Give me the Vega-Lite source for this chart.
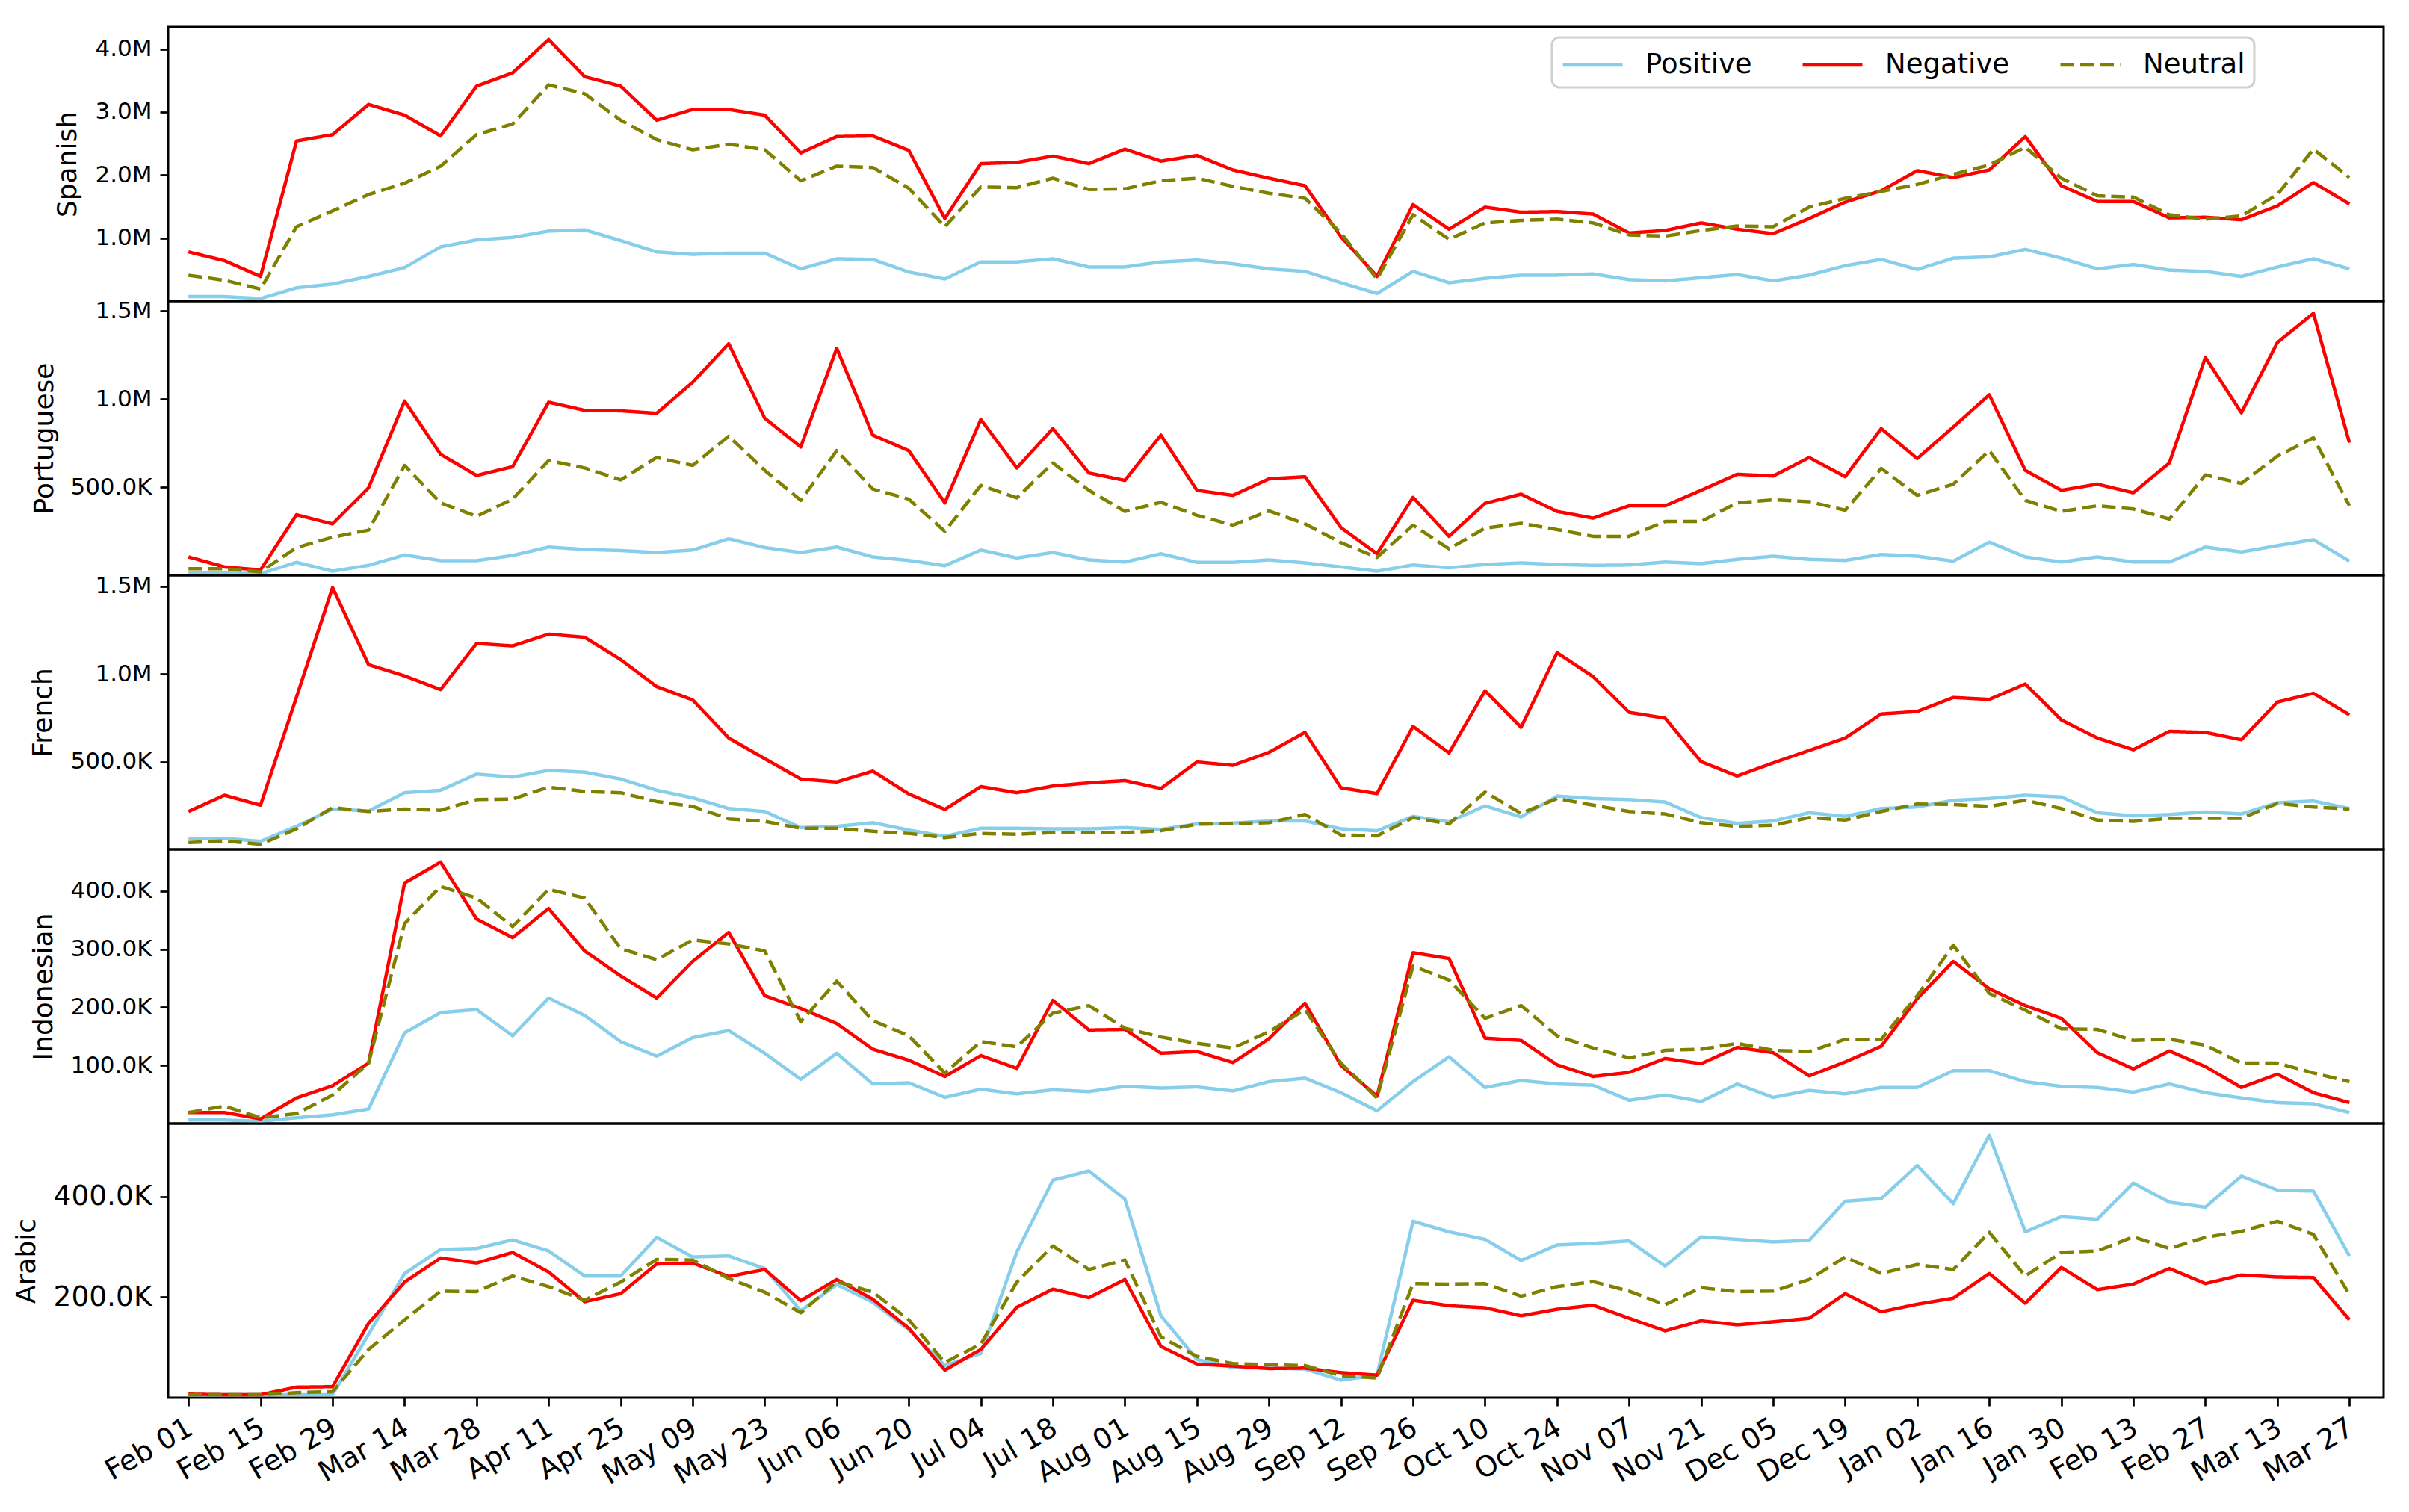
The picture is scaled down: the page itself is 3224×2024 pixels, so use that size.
{
"$schema": "https://vega.github.io/schema/vega-lite/v6.json",
"background": "white",
"padding": {"left": 15, "top": 34, "right": 30, "bottom": 40},
"autosize": {"type": "pad"},
"spacing": 0,
"bounds": "flush",
"config": {
 "font": "DejaVu Sans",
 "view": {"stroke": "black", "strokeWidth": 3},
 "axis": {"grid": false, "domain": false, "ticks": true, "tickColor": "black", "tickWidth": 2.7, "tickSize": 11, "labelColor": "black", "labelPadding": 11, "labelFont": "DejaVu Sans", "titleFont": "DejaVu Sans", "titleFontWeight": "normal", "titleColor": "black"},
 "legend": {"strokeWidth": 3}
},
"datasets": {
"Spanish": [
{"date":"2020-02-01","sentiment":"Positive","count":70000},{"date":"2020-02-08","sentiment":"Positive","count":70000},{"date":"2020-02-15","sentiment":"Positive","count":40000},{"date":"2020-02-22","sentiment":"Positive","count":210000},{"date":"2020-02-29","sentiment":"Positive","count":270000},{"date":"2020-03-07","sentiment":"Positive","count":390000},{"date":"2020-03-14","sentiment":"Positive","count":530000},{"date":"2020-03-21","sentiment":"Positive","count":860000},{"date":"2020-03-28","sentiment":"Positive","count":970000},{"date":"2020-04-04","sentiment":"Positive","count":1010000},{"date":"2020-04-11","sentiment":"Positive","count":1110000},{"date":"2020-04-18","sentiment":"Positive","count":1130000},{"date":"2020-04-25","sentiment":"Positive","count":960000},{"date":"2020-05-02","sentiment":"Positive","count":780000},{"date":"2020-05-09","sentiment":"Positive","count":740000},{"date":"2020-05-16","sentiment":"Positive","count":760000},{"date":"2020-05-23","sentiment":"Positive","count":760000},{"date":"2020-05-30","sentiment":"Positive","count":510000},{"date":"2020-06-06","sentiment":"Positive","count":670000},{"date":"2020-06-13","sentiment":"Positive","count":660000},{"date":"2020-06-20","sentiment":"Positive","count":460000},{"date":"2020-06-27","sentiment":"Positive","count":350000},{"date":"2020-07-04","sentiment":"Positive","count":620000},{"date":"2020-07-11","sentiment":"Positive","count":620000},{"date":"2020-07-18","sentiment":"Positive","count":670000},{"date":"2020-07-25","sentiment":"Positive","count":540000},{"date":"2020-08-01","sentiment":"Positive","count":540000},{"date":"2020-08-08","sentiment":"Positive","count":620000},{"date":"2020-08-15","sentiment":"Positive","count":650000},{"date":"2020-08-22","sentiment":"Positive","count":590000},{"date":"2020-08-29","sentiment":"Positive","count":510000},{"date":"2020-09-05","sentiment":"Positive","count":470000},{"date":"2020-09-12","sentiment":"Positive","count":290000},{"date":"2020-09-19","sentiment":"Positive","count":120000},{"date":"2020-09-26","sentiment":"Positive","count":470000},{"date":"2020-10-03","sentiment":"Positive","count":290000},{"date":"2020-10-10","sentiment":"Positive","count":360000},{"date":"2020-10-17","sentiment":"Positive","count":410000},{"date":"2020-10-24","sentiment":"Positive","count":410000},{"date":"2020-10-31","sentiment":"Positive","count":430000},{"date":"2020-11-07","sentiment":"Positive","count":340000},{"date":"2020-11-14","sentiment":"Positive","count":320000},{"date":"2020-11-21","sentiment":"Positive","count":370000},{"date":"2020-11-28","sentiment":"Positive","count":420000},{"date":"2020-12-05","sentiment":"Positive","count":320000},{"date":"2020-12-12","sentiment":"Positive","count":410000},{"date":"2020-12-19","sentiment":"Positive","count":560000},{"date":"2020-12-26","sentiment":"Positive","count":660000},{"date":"2021-01-02","sentiment":"Positive","count":500000},{"date":"2021-01-09","sentiment":"Positive","count":680000},{"date":"2021-01-16","sentiment":"Positive","count":700000},{"date":"2021-01-23","sentiment":"Positive","count":820000},{"date":"2021-01-30","sentiment":"Positive","count":680000},{"date":"2021-02-06","sentiment":"Positive","count":510000},{"date":"2021-02-13","sentiment":"Positive","count":580000},{"date":"2021-02-20","sentiment":"Positive","count":490000},{"date":"2021-02-27","sentiment":"Positive","count":470000},{"date":"2021-03-06","sentiment":"Positive","count":390000},{"date":"2021-03-13","sentiment":"Positive","count":540000},{"date":"2021-03-20","sentiment":"Positive","count":670000},{"date":"2021-03-27","sentiment":"Positive","count":510000},
{"date":"2020-02-01","sentiment":"Negative","count":780000},{"date":"2020-02-08","sentiment":"Negative","count":640000},{"date":"2020-02-15","sentiment":"Negative","count":390000},{"date":"2020-02-22","sentiment":"Negative","count":2540000},{"date":"2020-02-29","sentiment":"Negative","count":2640000},{"date":"2020-03-07","sentiment":"Negative","count":3120000},{"date":"2020-03-14","sentiment":"Negative","count":2950000},{"date":"2020-03-21","sentiment":"Negative","count":2620000},{"date":"2020-03-28","sentiment":"Negative","count":3410000},{"date":"2020-04-04","sentiment":"Negative","count":3620000},{"date":"2020-04-11","sentiment":"Negative","count":4150000},{"date":"2020-04-18","sentiment":"Negative","count":3560000},{"date":"2020-04-25","sentiment":"Negative","count":3410000},{"date":"2020-05-02","sentiment":"Negative","count":2870000},{"date":"2020-05-09","sentiment":"Negative","count":3040000},{"date":"2020-05-16","sentiment":"Negative","count":3040000},{"date":"2020-05-23","sentiment":"Negative","count":2950000},{"date":"2020-05-30","sentiment":"Negative","count":2350000},{"date":"2020-06-06","sentiment":"Negative","count":2610000},{"date":"2020-06-13","sentiment":"Negative","count":2620000},{"date":"2020-06-20","sentiment":"Negative","count":2390000},{"date":"2020-06-27","sentiment":"Negative","count":1310000},{"date":"2020-07-04","sentiment":"Negative","count":2180000},{"date":"2020-07-11","sentiment":"Negative","count":2200000},{"date":"2020-07-18","sentiment":"Negative","count":2300000},{"date":"2020-07-25","sentiment":"Negative","count":2180000},{"date":"2020-08-01","sentiment":"Negative","count":2410000},{"date":"2020-08-08","sentiment":"Negative","count":2220000},{"date":"2020-08-15","sentiment":"Negative","count":2310000},{"date":"2020-08-22","sentiment":"Negative","count":2080000},{"date":"2020-08-29","sentiment":"Negative","count":1950000},{"date":"2020-09-05","sentiment":"Negative","count":1830000},{"date":"2020-09-12","sentiment":"Negative","count":1020000},{"date":"2020-09-19","sentiment":"Negative","count":390000},{"date":"2020-09-26","sentiment":"Negative","count":1530000},{"date":"2020-10-03","sentiment":"Negative","count":1140000},{"date":"2020-10-10","sentiment":"Negative","count":1490000},{"date":"2020-10-17","sentiment":"Negative","count":1410000},{"date":"2020-10-24","sentiment":"Negative","count":1420000},{"date":"2020-10-31","sentiment":"Negative","count":1380000},{"date":"2020-11-07","sentiment":"Negative","count":1080000},{"date":"2020-11-14","sentiment":"Negative","count":1120000},{"date":"2020-11-21","sentiment":"Negative","count":1240000},{"date":"2020-11-28","sentiment":"Negative","count":1140000},{"date":"2020-12-05","sentiment":"Negative","count":1070000},{"date":"2020-12-12","sentiment":"Negative","count":1310000},{"date":"2020-12-19","sentiment":"Negative","count":1570000},{"date":"2020-12-26","sentiment":"Negative","count":1750000},{"date":"2021-01-02","sentiment":"Negative","count":2070000},{"date":"2021-01-09","sentiment":"Negative","count":1960000},{"date":"2021-01-16","sentiment":"Negative","count":2080000},{"date":"2021-01-23","sentiment":"Negative","count":2610000},{"date":"2021-01-30","sentiment":"Negative","count":1830000},{"date":"2021-02-06","sentiment":"Negative","count":1580000},{"date":"2021-02-13","sentiment":"Negative","count":1580000},{"date":"2021-02-20","sentiment":"Negative","count":1320000},{"date":"2021-02-27","sentiment":"Negative","count":1330000},{"date":"2021-03-06","sentiment":"Negative","count":1290000},{"date":"2021-03-13","sentiment":"Negative","count":1510000},{"date":"2021-03-20","sentiment":"Negative","count":1880000},{"date":"2021-03-27","sentiment":"Negative","count":1540000},
{"date":"2020-02-01","sentiment":"Neutral","count":410000},{"date":"2020-02-08","sentiment":"Neutral","count":330000},{"date":"2020-02-15","sentiment":"Neutral","count":190000},{"date":"2020-02-22","sentiment":"Neutral","count":1180000},{"date":"2020-02-29","sentiment":"Neutral","count":1430000},{"date":"2020-03-07","sentiment":"Neutral","count":1690000},{"date":"2020-03-14","sentiment":"Neutral","count":1870000},{"date":"2020-03-21","sentiment":"Neutral","count":2140000},{"date":"2020-03-28","sentiment":"Neutral","count":2640000},{"date":"2020-04-04","sentiment":"Neutral","count":2810000},{"date":"2020-04-11","sentiment":"Neutral","count":3430000},{"date":"2020-04-18","sentiment":"Neutral","count":3290000},{"date":"2020-04-25","sentiment":"Neutral","count":2870000},{"date":"2020-05-02","sentiment":"Neutral","count":2560000},{"date":"2020-05-09","sentiment":"Neutral","count":2400000},{"date":"2020-05-16","sentiment":"Neutral","count":2490000},{"date":"2020-05-23","sentiment":"Neutral","count":2400000},{"date":"2020-05-30","sentiment":"Neutral","count":1910000},{"date":"2020-06-06","sentiment":"Neutral","count":2140000},{"date":"2020-06-13","sentiment":"Neutral","count":2120000},{"date":"2020-06-20","sentiment":"Neutral","count":1790000},{"date":"2020-06-27","sentiment":"Neutral","count":1180000},{"date":"2020-07-04","sentiment":"Neutral","count":1810000},{"date":"2020-07-11","sentiment":"Neutral","count":1800000},{"date":"2020-07-18","sentiment":"Neutral","count":1950000},{"date":"2020-07-25","sentiment":"Neutral","count":1770000},{"date":"2020-08-01","sentiment":"Neutral","count":1780000},{"date":"2020-08-08","sentiment":"Neutral","count":1910000},{"date":"2020-08-15","sentiment":"Neutral","count":1950000},{"date":"2020-08-22","sentiment":"Neutral","count":1820000},{"date":"2020-08-29","sentiment":"Neutral","count":1710000},{"date":"2020-09-05","sentiment":"Neutral","count":1630000},{"date":"2020-09-12","sentiment":"Neutral","count":1080000},{"date":"2020-09-19","sentiment":"Neutral","count":350000},{"date":"2020-09-26","sentiment":"Neutral","count":1370000},{"date":"2020-10-03","sentiment":"Neutral","count":980000},{"date":"2020-10-10","sentiment":"Neutral","count":1240000},{"date":"2020-10-17","sentiment":"Neutral","count":1280000},{"date":"2020-10-24","sentiment":"Neutral","count":1300000},{"date":"2020-10-31","sentiment":"Neutral","count":1240000},{"date":"2020-11-07","sentiment":"Neutral","count":1050000},{"date":"2020-11-14","sentiment":"Neutral","count":1030000},{"date":"2020-11-21","sentiment":"Neutral","count":1120000},{"date":"2020-11-28","sentiment":"Neutral","count":1190000},{"date":"2020-12-05","sentiment":"Neutral","count":1180000},{"date":"2020-12-12","sentiment":"Neutral","count":1490000},{"date":"2020-12-19","sentiment":"Neutral","count":1630000},{"date":"2020-12-26","sentiment":"Neutral","count":1740000},{"date":"2021-01-02","sentiment":"Neutral","count":1850000},{"date":"2021-01-09","sentiment":"Neutral","count":2010000},{"date":"2021-01-16","sentiment":"Neutral","count":2160000},{"date":"2021-01-23","sentiment":"Neutral","count":2440000},{"date":"2021-01-30","sentiment":"Neutral","count":1950000},{"date":"2021-02-06","sentiment":"Neutral","count":1670000},{"date":"2021-02-13","sentiment":"Neutral","count":1650000},{"date":"2021-02-20","sentiment":"Neutral","count":1370000},{"date":"2021-02-27","sentiment":"Neutral","count":1300000},{"date":"2021-03-06","sentiment":"Neutral","count":1350000},{"date":"2021-03-13","sentiment":"Neutral","count":1690000},{"date":"2021-03-20","sentiment":"Neutral","count":2410000},{"date":"2021-03-27","sentiment":"Neutral","count":1960000}
],
"Portuguese": [
{"date":"2020-02-01","sentiment":"Positive","count":13000},{"date":"2020-02-08","sentiment":"Positive","count":13000},{"date":"2020-02-15","sentiment":"Positive","count":9000},{"date":"2020-02-22","sentiment":"Positive","count":73000},{"date":"2020-02-29","sentiment":"Positive","count":23000},{"date":"2020-03-07","sentiment":"Positive","count":56000},{"date":"2020-03-14","sentiment":"Positive","count":115000},{"date":"2020-03-21","sentiment":"Positive","count":83000},{"date":"2020-03-28","sentiment":"Positive","count":83000},{"date":"2020-04-04","sentiment":"Positive","count":112000},{"date":"2020-04-11","sentiment":"Positive","count":160000},{"date":"2020-04-18","sentiment":"Positive","count":146000},{"date":"2020-04-25","sentiment":"Positive","count":140000},{"date":"2020-05-02","sentiment":"Positive","count":129000},{"date":"2020-05-09","sentiment":"Positive","count":143000},{"date":"2020-05-16","sentiment":"Positive","count":207000},{"date":"2020-05-23","sentiment":"Positive","count":157000},{"date":"2020-05-30","sentiment":"Positive","count":129000},{"date":"2020-06-06","sentiment":"Positive","count":160000},{"date":"2020-06-13","sentiment":"Positive","count":104000},{"date":"2020-06-20","sentiment":"Positive","count":84000},{"date":"2020-06-27","sentiment":"Positive","count":54000},{"date":"2020-07-04","sentiment":"Positive","count":143000},{"date":"2020-07-11","sentiment":"Positive","count":98000},{"date":"2020-07-18","sentiment":"Positive","count":129000},{"date":"2020-07-25","sentiment":"Positive","count":87000},{"date":"2020-08-01","sentiment":"Positive","count":75000},{"date":"2020-08-08","sentiment":"Positive","count":122000},{"date":"2020-08-15","sentiment":"Positive","count":73000},{"date":"2020-08-22","sentiment":"Positive","count":73000},{"date":"2020-08-29","sentiment":"Positive","count":87000},{"date":"2020-09-05","sentiment":"Positive","count":70000},{"date":"2020-09-12","sentiment":"Positive","count":47000},{"date":"2020-09-19","sentiment":"Positive","count":23000},{"date":"2020-09-26","sentiment":"Positive","count":58000},{"date":"2020-10-03","sentiment":"Positive","count":42000},{"date":"2020-10-10","sentiment":"Positive","count":61000},{"date":"2020-10-17","sentiment":"Positive","count":70000},{"date":"2020-10-24","sentiment":"Positive","count":61000},{"date":"2020-10-31","sentiment":"Positive","count":56000},{"date":"2020-11-07","sentiment":"Positive","count":58000},{"date":"2020-11-14","sentiment":"Positive","count":75000},{"date":"2020-11-21","sentiment":"Positive","count":66000},{"date":"2020-11-28","sentiment":"Positive","count":90000},{"date":"2020-12-05","sentiment":"Positive","count":108000},{"date":"2020-12-12","sentiment":"Positive","count":90000},{"date":"2020-12-19","sentiment":"Positive","count":84000},{"date":"2020-12-26","sentiment":"Positive","count":118000},{"date":"2021-01-02","sentiment":"Positive","count":108000},{"date":"2021-01-09","sentiment":"Positive","count":80000},{"date":"2021-01-16","sentiment":"Positive","count":188000},{"date":"2021-01-23","sentiment":"Positive","count":104000},{"date":"2021-01-30","sentiment":"Positive","count":75000},{"date":"2021-02-06","sentiment":"Positive","count":104000},{"date":"2021-02-13","sentiment":"Positive","count":75000},{"date":"2021-02-20","sentiment":"Positive","count":75000},{"date":"2021-02-27","sentiment":"Positive","count":160000},{"date":"2021-03-06","sentiment":"Positive","count":132000},{"date":"2021-03-13","sentiment":"Positive","count":168000},{"date":"2021-03-20","sentiment":"Positive","count":202000},{"date":"2021-03-27","sentiment":"Positive","count":80000},
{"date":"2020-02-01","sentiment":"Negative","count":104000},{"date":"2020-02-08","sentiment":"Negative","count":47000},{"date":"2020-02-15","sentiment":"Negative","count":30000},{"date":"2020-02-22","sentiment":"Negative","count":343000},{"date":"2020-02-29","sentiment":"Negative","count":291000},{"date":"2020-03-07","sentiment":"Negative","count":496000},{"date":"2020-03-14","sentiment":"Negative","count":989000},{"date":"2020-03-21","sentiment":"Negative","count":686000},{"date":"2020-03-28","sentiment":"Negative","count":566000},{"date":"2020-04-04","sentiment":"Negative","count":616000},{"date":"2020-04-11","sentiment":"Negative","count":982000},{"date":"2020-04-18","sentiment":"Negative","count":936000},{"date":"2020-04-25","sentiment":"Negative","count":933000},{"date":"2020-05-02","sentiment":"Negative","count":919000},{"date":"2020-05-09","sentiment":"Negative","count":1095000},{"date":"2020-05-16","sentiment":"Negative","count":1314000},{"date":"2020-05-23","sentiment":"Negative","count":891000},{"date":"2020-05-30","sentiment":"Negative","count":728000},{"date":"2020-06-06","sentiment":"Negative","count":1288000},{"date":"2020-06-13","sentiment":"Negative","count":795000},{"date":"2020-06-20","sentiment":"Negative","count":707000},{"date":"2020-06-27","sentiment":"Negative","count":411000},{"date":"2020-07-04","sentiment":"Negative","count":884000},{"date":"2020-07-11","sentiment":"Negative","count":609000},{"date":"2020-07-18","sentiment":"Negative","count":832000},{"date":"2020-07-25","sentiment":"Negative","count":580000},{"date":"2020-08-01","sentiment":"Negative","count":538000},{"date":"2020-08-08","sentiment":"Negative","count":795000},{"date":"2020-08-15","sentiment":"Negative","count":482000},{"date":"2020-08-22","sentiment":"Negative","count":453000},{"date":"2020-08-29","sentiment":"Negative","count":547000},{"date":"2020-09-05","sentiment":"Negative","count":559000},{"date":"2020-09-12","sentiment":"Negative","count":270000},{"date":"2020-09-19","sentiment":"Negative","count":122000},{"date":"2020-09-26","sentiment":"Negative","count":442000},{"date":"2020-10-03","sentiment":"Negative","count":221000},{"date":"2020-10-10","sentiment":"Negative","count":408000},{"date":"2020-10-17","sentiment":"Negative","count":460000},{"date":"2020-10-24","sentiment":"Negative","count":362000},{"date":"2020-10-31","sentiment":"Negative","count":324000},{"date":"2020-11-07","sentiment":"Negative","count":394000},{"date":"2020-11-14","sentiment":"Negative","count":394000},{"date":"2020-11-21","sentiment":"Negative","count":482000},{"date":"2020-11-28","sentiment":"Negative","count":573000},{"date":"2020-12-05","sentiment":"Negative","count":563000},{"date":"2020-12-12","sentiment":"Negative","count":668000},{"date":"2020-12-19","sentiment":"Negative","count":559000},{"date":"2020-12-26","sentiment":"Negative","count":832000},{"date":"2021-01-02","sentiment":"Negative","count":662000},{"date":"2021-01-09","sentiment":"Negative","count":841000},{"date":"2021-01-16","sentiment":"Negative","count":1024000},{"date":"2021-01-23","sentiment":"Negative","count":595000},{"date":"2021-01-30","sentiment":"Negative","count":482000},{"date":"2021-02-06","sentiment":"Negative","count":517000},{"date":"2021-02-13","sentiment":"Negative","count":468000},{"date":"2021-02-20","sentiment":"Negative","count":637000},{"date":"2021-02-27","sentiment":"Negative","count":1236000},{"date":"2021-03-06","sentiment":"Negative","count":922000},{"date":"2021-03-13","sentiment":"Negative","count":1321000},{"date":"2021-03-20","sentiment":"Negative","count":1486000},{"date":"2021-03-27","sentiment":"Negative","count":752000},
{"date":"2020-02-01","sentiment":"Neutral","count":37000},{"date":"2020-02-08","sentiment":"Neutral","count":37000},{"date":"2020-02-15","sentiment":"Neutral","count":19000},{"date":"2020-02-22","sentiment":"Neutral","count":157000},{"date":"2020-02-29","sentiment":"Neutral","count":216000},{"date":"2020-03-07","sentiment":"Neutral","count":256000},{"date":"2020-03-14","sentiment":"Neutral","count":623000},{"date":"2020-03-21","sentiment":"Neutral","count":411000},{"date":"2020-03-28","sentiment":"Neutral","count":334000},{"date":"2020-04-04","sentiment":"Neutral","count":432000},{"date":"2020-04-11","sentiment":"Neutral","count":651000},{"date":"2020-04-18","sentiment":"Neutral","count":609000},{"date":"2020-04-25","sentiment":"Neutral","count":541000},{"date":"2020-05-02","sentiment":"Neutral","count":668000},{"date":"2020-05-09","sentiment":"Neutral","count":623000},{"date":"2020-05-16","sentiment":"Neutral","count":789000},{"date":"2020-05-23","sentiment":"Neutral","count":595000},{"date":"2020-05-30","sentiment":"Neutral","count":425000},{"date":"2020-06-06","sentiment":"Neutral","count":707000},{"date":"2020-06-13","sentiment":"Neutral","count":489000},{"date":"2020-06-20","sentiment":"Neutral","count":432000},{"date":"2020-06-27","sentiment":"Neutral","count":249000},{"date":"2020-07-04","sentiment":"Neutral","count":510000},{"date":"2020-07-11","sentiment":"Neutral","count":439000},{"date":"2020-07-18","sentiment":"Neutral","count":637000},{"date":"2020-07-25","sentiment":"Neutral","count":482000},{"date":"2020-08-01","sentiment":"Neutral","count":362000},{"date":"2020-08-08","sentiment":"Neutral","count":414000},{"date":"2020-08-15","sentiment":"Neutral","count":340000},{"date":"2020-08-22","sentiment":"Neutral","count":284000},{"date":"2020-08-29","sentiment":"Neutral","count":365000},{"date":"2020-09-05","sentiment":"Neutral","count":291000},{"date":"2020-09-12","sentiment":"Neutral","count":185000},{"date":"2020-09-19","sentiment":"Neutral","count":101000},{"date":"2020-09-26","sentiment":"Neutral","count":284000},{"date":"2020-10-03","sentiment":"Neutral","count":150000},{"date":"2020-10-10","sentiment":"Neutral","count":267000},{"date":"2020-10-17","sentiment":"Neutral","count":295000},{"date":"2020-10-24","sentiment":"Neutral","count":259000},{"date":"2020-10-31","sentiment":"Neutral","count":221000},{"date":"2020-11-07","sentiment":"Neutral","count":221000},{"date":"2020-11-14","sentiment":"Neutral","count":305000},{"date":"2020-11-21","sentiment":"Neutral","count":305000},{"date":"2020-11-28","sentiment":"Neutral","count":411000},{"date":"2020-12-05","sentiment":"Neutral","count":428000},{"date":"2020-12-12","sentiment":"Neutral","count":418000},{"date":"2020-12-19","sentiment":"Neutral","count":369000},{"date":"2020-12-26","sentiment":"Neutral","count":606000},{"date":"2021-01-02","sentiment":"Neutral","count":453000},{"date":"2021-01-09","sentiment":"Neutral","count":517000},{"date":"2021-01-16","sentiment":"Neutral","count":707000},{"date":"2021-01-23","sentiment":"Neutral","count":425000},{"date":"2021-01-30","sentiment":"Neutral","count":362000},{"date":"2021-02-06","sentiment":"Neutral","count":394000},{"date":"2021-02-13","sentiment":"Neutral","count":376000},{"date":"2021-02-20","sentiment":"Neutral","count":319000},{"date":"2021-02-27","sentiment":"Neutral","count":569000},{"date":"2021-03-06","sentiment":"Neutral","count":521000},{"date":"2021-03-13","sentiment":"Neutral","count":676000},{"date":"2021-03-20","sentiment":"Neutral","count":780000},{"date":"2021-03-27","sentiment":"Neutral","count":394000}
],
"French": [
{"date":"2020-02-01","sentiment":"Positive","count":63000},{"date":"2020-02-08","sentiment":"Positive","count":63000},{"date":"2020-02-15","sentiment":"Positive","count":46000},{"date":"2020-02-22","sentiment":"Positive","count":131000},{"date":"2020-02-29","sentiment":"Positive","count":230000},{"date":"2020-03-07","sentiment":"Positive","count":219000},{"date":"2020-03-14","sentiment":"Positive","count":323000},{"date":"2020-03-21","sentiment":"Positive","count":337000},{"date":"2020-03-28","sentiment":"Positive","count":429000},{"date":"2020-04-04","sentiment":"Positive","count":412000},{"date":"2020-04-11","sentiment":"Positive","count":450000},{"date":"2020-04-18","sentiment":"Positive","count":440000},{"date":"2020-04-25","sentiment":"Positive","count":401000},{"date":"2020-05-02","sentiment":"Positive","count":337000},{"date":"2020-05-09","sentiment":"Positive","count":294000},{"date":"2020-05-16","sentiment":"Positive","count":233000},{"date":"2020-05-23","sentiment":"Positive","count":216000},{"date":"2020-05-30","sentiment":"Positive","count":124000},{"date":"2020-06-06","sentiment":"Positive","count":131000},{"date":"2020-06-13","sentiment":"Positive","count":152000},{"date":"2020-06-20","sentiment":"Positive","count":110000},{"date":"2020-06-27","sentiment":"Positive","count":74000},{"date":"2020-07-04","sentiment":"Positive","count":120000},{"date":"2020-07-11","sentiment":"Positive","count":120000},{"date":"2020-07-18","sentiment":"Positive","count":117000},{"date":"2020-07-25","sentiment":"Positive","count":117000},{"date":"2020-08-01","sentiment":"Positive","count":124000},{"date":"2020-08-08","sentiment":"Positive","count":114000},{"date":"2020-08-15","sentiment":"Positive","count":145000},{"date":"2020-08-22","sentiment":"Positive","count":150000},{"date":"2020-08-29","sentiment":"Positive","count":162000},{"date":"2020-09-05","sentiment":"Positive","count":162000},{"date":"2020-09-12","sentiment":"Positive","count":117000},{"date":"2020-09-19","sentiment":"Positive","count":106000},{"date":"2020-09-26","sentiment":"Positive","count":188000},{"date":"2020-10-03","sentiment":"Positive","count":157000},{"date":"2020-10-10","sentiment":"Positive","count":248000},{"date":"2020-10-17","sentiment":"Positive","count":185000},{"date":"2020-10-24","sentiment":"Positive","count":304000},{"date":"2020-10-31","sentiment":"Positive","count":290000},{"date":"2020-11-07","sentiment":"Positive","count":284000},{"date":"2020-11-14","sentiment":"Positive","count":270000},{"date":"2020-11-21","sentiment":"Positive","count":181000},{"date":"2020-11-28","sentiment":"Positive","count":148000},{"date":"2020-12-05","sentiment":"Positive","count":162000},{"date":"2020-12-12","sentiment":"Positive","count":209000},{"date":"2020-12-19","sentiment":"Positive","count":188000},{"date":"2020-12-26","sentiment":"Positive","count":233000},{"date":"2021-01-02","sentiment":"Positive","count":242000},{"date":"2021-01-09","sentiment":"Positive","count":280000},{"date":"2021-01-16","sentiment":"Positive","count":290000},{"date":"2021-01-23","sentiment":"Positive","count":309000},{"date":"2021-01-30","sentiment":"Positive","count":299000},{"date":"2021-02-06","sentiment":"Positive","count":209000},{"date":"2021-02-13","sentiment":"Positive","count":191000},{"date":"2021-02-20","sentiment":"Positive","count":199000},{"date":"2021-02-27","sentiment":"Positive","count":213000},{"date":"2021-03-06","sentiment":"Positive","count":202000},{"date":"2021-03-13","sentiment":"Positive","count":266000},{"date":"2021-03-20","sentiment":"Positive","count":276000},{"date":"2021-03-27","sentiment":"Positive","count":233000},
{"date":"2020-02-01","sentiment":"Negative","count":216000},{"date":"2020-02-08","sentiment":"Negative","count":309000},{"date":"2020-02-15","sentiment":"Negative","count":252000},{"date":"2020-02-22","sentiment":"Negative","count":869000},{"date":"2020-02-29","sentiment":"Negative","count":1493000},{"date":"2020-03-07","sentiment":"Negative","count":1053000},{"date":"2020-03-14","sentiment":"Negative","count":989000},{"date":"2020-03-21","sentiment":"Negative","count":911000},{"date":"2020-03-28","sentiment":"Negative","count":1174000},{"date":"2020-04-04","sentiment":"Negative","count":1160000},{"date":"2020-04-11","sentiment":"Negative","count":1227000},{"date":"2020-04-18","sentiment":"Negative","count":1209000},{"date":"2020-04-25","sentiment":"Negative","count":1082000},{"date":"2020-05-02","sentiment":"Negative","count":928000},{"date":"2020-05-09","sentiment":"Negative","count":852000},{"date":"2020-05-16","sentiment":"Negative","count":635000},{"date":"2020-05-23","sentiment":"Negative","count":517000},{"date":"2020-05-30","sentiment":"Negative","count":401000},{"date":"2020-06-06","sentiment":"Negative","count":384000},{"date":"2020-06-13","sentiment":"Negative","count":446000},{"date":"2020-06-20","sentiment":"Negative","count":316000},{"date":"2020-06-27","sentiment":"Negative","count":228000},{"date":"2020-07-04","sentiment":"Negative","count":358000},{"date":"2020-07-11","sentiment":"Negative","count":323000},{"date":"2020-07-18","sentiment":"Negative","count":361000},{"date":"2020-07-25","sentiment":"Negative","count":379000},{"date":"2020-08-01","sentiment":"Negative","count":392000},{"date":"2020-08-08","sentiment":"Negative","count":347000},{"date":"2020-08-15","sentiment":"Negative","count":498000},{"date":"2020-08-22","sentiment":"Negative","count":479000},{"date":"2020-08-29","sentiment":"Negative","count":553000},{"date":"2020-09-05","sentiment":"Negative","count":667000},{"date":"2020-09-12","sentiment":"Negative","count":351000},{"date":"2020-09-19","sentiment":"Negative","count":318000},{"date":"2020-09-26","sentiment":"Negative","count":701000},{"date":"2020-10-03","sentiment":"Negative","count":550000},{"date":"2020-10-10","sentiment":"Negative","count":904000},{"date":"2020-10-17","sentiment":"Negative","count":696000},{"date":"2020-10-24","sentiment":"Negative","count":1121000},{"date":"2020-10-31","sentiment":"Negative","count":985000},{"date":"2020-11-07","sentiment":"Negative","count":781000},{"date":"2020-11-14","sentiment":"Negative","count":748000},{"date":"2020-11-21","sentiment":"Negative","count":500000},{"date":"2020-11-28","sentiment":"Negative","count":418000},{"date":"2020-12-05","sentiment":"Negative","count":493000},{"date":"2020-12-12","sentiment":"Negative","count":564000},{"date":"2020-12-19","sentiment":"Negative","count":635000},{"date":"2020-12-26","sentiment":"Negative","count":772000},{"date":"2021-01-02","sentiment":"Negative","count":786000},{"date":"2021-01-09","sentiment":"Negative","count":866000},{"date":"2021-01-16","sentiment":"Negative","count":855000},{"date":"2021-01-23","sentiment":"Negative","count":943000},{"date":"2021-01-30","sentiment":"Negative","count":738000},{"date":"2021-02-06","sentiment":"Negative","count":635000},{"date":"2021-02-13","sentiment":"Negative","count":568000},{"date":"2021-02-20","sentiment":"Negative","count":673000},{"date":"2021-02-27","sentiment":"Negative","count":667000},{"date":"2021-03-06","sentiment":"Negative","count":625000},{"date":"2021-03-13","sentiment":"Negative","count":840000},{"date":"2021-03-20","sentiment":"Negative","count":890000},{"date":"2021-03-27","sentiment":"Negative","count":767000},
{"date":"2020-02-01","sentiment":"Neutral","count":39000},{"date":"2020-02-08","sentiment":"Neutral","count":49000},{"date":"2020-02-15","sentiment":"Neutral","count":29000},{"date":"2020-02-22","sentiment":"Neutral","count":117000},{"date":"2020-02-29","sentiment":"Neutral","count":238000},{"date":"2020-03-07","sentiment":"Neutral","count":216000},{"date":"2020-03-14","sentiment":"Neutral","count":230000},{"date":"2020-03-21","sentiment":"Neutral","count":223000},{"date":"2020-03-28","sentiment":"Neutral","count":284000},{"date":"2020-04-04","sentiment":"Neutral","count":287000},{"date":"2020-04-11","sentiment":"Neutral","count":355000},{"date":"2020-04-18","sentiment":"Neutral","count":330000},{"date":"2020-04-25","sentiment":"Neutral","count":323000},{"date":"2020-05-02","sentiment":"Neutral","count":273000},{"date":"2020-05-09","sentiment":"Neutral","count":245000},{"date":"2020-05-16","sentiment":"Neutral","count":174000},{"date":"2020-05-23","sentiment":"Neutral","count":160000},{"date":"2020-05-30","sentiment":"Neutral","count":120000},{"date":"2020-06-06","sentiment":"Neutral","count":120000},{"date":"2020-06-13","sentiment":"Neutral","count":103000},{"date":"2020-06-20","sentiment":"Neutral","count":91000},{"date":"2020-06-27","sentiment":"Neutral","count":67000},{"date":"2020-07-04","sentiment":"Neutral","count":91000},{"date":"2020-07-11","sentiment":"Neutral","count":86000},{"date":"2020-07-18","sentiment":"Neutral","count":96000},{"date":"2020-07-25","sentiment":"Neutral","count":96000},{"date":"2020-08-01","sentiment":"Neutral","count":96000},{"date":"2020-08-08","sentiment":"Neutral","count":106000},{"date":"2020-08-15","sentiment":"Neutral","count":143000},{"date":"2020-08-22","sentiment":"Neutral","count":147000},{"date":"2020-08-29","sentiment":"Neutral","count":152000},{"date":"2020-09-05","sentiment":"Neutral","count":199000},{"date":"2020-09-12","sentiment":"Neutral","count":82000},{"date":"2020-09-19","sentiment":"Neutral","count":77000},{"date":"2020-09-26","sentiment":"Neutral","count":181000},{"date":"2020-10-03","sentiment":"Neutral","count":145000},{"date":"2020-10-10","sentiment":"Neutral","count":327000},{"date":"2020-10-17","sentiment":"Neutral","count":205000},{"date":"2020-10-24","sentiment":"Neutral","count":290000},{"date":"2020-10-31","sentiment":"Neutral","count":252000},{"date":"2020-11-07","sentiment":"Neutral","count":216000},{"date":"2020-11-14","sentiment":"Neutral","count":202000},{"date":"2020-11-21","sentiment":"Neutral","count":152000},{"date":"2020-11-28","sentiment":"Neutral","count":131000},{"date":"2020-12-05","sentiment":"Neutral","count":138000},{"date":"2020-12-12","sentiment":"Neutral","count":181000},{"date":"2020-12-19","sentiment":"Neutral","count":167000},{"date":"2020-12-26","sentiment":"Neutral","count":216000},{"date":"2021-01-02","sentiment":"Neutral","count":259000},{"date":"2021-01-09","sentiment":"Neutral","count":256000},{"date":"2021-01-16","sentiment":"Neutral","count":245000},{"date":"2021-01-23","sentiment":"Neutral","count":280000},{"date":"2021-01-30","sentiment":"Neutral","count":233000},{"date":"2021-02-06","sentiment":"Neutral","count":167000},{"date":"2021-02-13","sentiment":"Neutral","count":160000},{"date":"2021-02-20","sentiment":"Neutral","count":177000},{"date":"2021-02-27","sentiment":"Neutral","count":177000},{"date":"2021-03-06","sentiment":"Neutral","count":177000},{"date":"2021-03-13","sentiment":"Neutral","count":262000},{"date":"2021-03-20","sentiment":"Neutral","count":242000},{"date":"2021-03-27","sentiment":"Neutral","count":230000}
],
"Indonesian": [
{"date":"2020-02-01","sentiment":"Positive","count":6000},{"date":"2020-02-08","sentiment":"Positive","count":6000},{"date":"2020-02-15","sentiment":"Positive","count":4000},{"date":"2020-02-22","sentiment":"Positive","count":10000},{"date":"2020-02-29","sentiment":"Positive","count":15000},{"date":"2020-03-07","sentiment":"Positive","count":25000},{"date":"2020-03-14","sentiment":"Positive","count":156000},{"date":"2020-03-21","sentiment":"Positive","count":191000},{"date":"2020-03-28","sentiment":"Positive","count":196000},{"date":"2020-04-04","sentiment":"Positive","count":151000},{"date":"2020-04-11","sentiment":"Positive","count":216000},{"date":"2020-04-18","sentiment":"Positive","count":186000},{"date":"2020-04-25","sentiment":"Positive","count":141000},{"date":"2020-05-02","sentiment":"Positive","count":116000},{"date":"2020-05-09","sentiment":"Positive","count":148000},{"date":"2020-05-16","sentiment":"Positive","count":160000},{"date":"2020-05-23","sentiment":"Positive","count":121000},{"date":"2020-05-30","sentiment":"Positive","count":76000},{"date":"2020-06-06","sentiment":"Positive","count":121000},{"date":"2020-06-13","sentiment":"Positive","count":68000},{"date":"2020-06-20","sentiment":"Positive","count":70000},{"date":"2020-06-27","sentiment":"Positive","count":45000},{"date":"2020-07-04","sentiment":"Positive","count":59000},{"date":"2020-07-11","sentiment":"Positive","count":51000},{"date":"2020-07-18","sentiment":"Positive","count":58000},{"date":"2020-07-25","sentiment":"Positive","count":55000},{"date":"2020-08-01","sentiment":"Positive","count":64000},{"date":"2020-08-08","sentiment":"Positive","count":61000},{"date":"2020-08-15","sentiment":"Positive","count":63000},{"date":"2020-08-22","sentiment":"Positive","count":56000},{"date":"2020-08-29","sentiment":"Positive","count":72000},{"date":"2020-09-05","sentiment":"Positive","count":78000},{"date":"2020-09-12","sentiment":"Positive","count":53000},{"date":"2020-09-19","sentiment":"Positive","count":22000},{"date":"2020-09-26","sentiment":"Positive","count":72000},{"date":"2020-10-03","sentiment":"Positive","count":115000},{"date":"2020-10-10","sentiment":"Positive","count":62000},{"date":"2020-10-17","sentiment":"Positive","count":74000},{"date":"2020-10-24","sentiment":"Positive","count":68000},{"date":"2020-10-31","sentiment":"Positive","count":66000},{"date":"2020-11-07","sentiment":"Positive","count":40000},{"date":"2020-11-14","sentiment":"Positive","count":49000},{"date":"2020-11-21","sentiment":"Positive","count":38000},{"date":"2020-11-28","sentiment":"Positive","count":68000},{"date":"2020-12-05","sentiment":"Positive","count":45000},{"date":"2020-12-12","sentiment":"Positive","count":57000},{"date":"2020-12-19","sentiment":"Positive","count":51000},{"date":"2020-12-26","sentiment":"Positive","count":62000},{"date":"2021-01-02","sentiment":"Positive","count":62000},{"date":"2021-01-09","sentiment":"Positive","count":91000},{"date":"2021-01-16","sentiment":"Positive","count":91000},{"date":"2021-01-23","sentiment":"Positive","count":72000},{"date":"2021-01-30","sentiment":"Positive","count":64000},{"date":"2021-02-06","sentiment":"Positive","count":62000},{"date":"2021-02-13","sentiment":"Positive","count":54000},{"date":"2021-02-20","sentiment":"Positive","count":68000},{"date":"2021-02-27","sentiment":"Positive","count":53000},{"date":"2021-03-06","sentiment":"Positive","count":44000},{"date":"2021-03-13","sentiment":"Positive","count":36000},{"date":"2021-03-20","sentiment":"Positive","count":34000},{"date":"2021-03-27","sentiment":"Positive","count":19000},
{"date":"2020-02-01","sentiment":"Negative","count":19000},{"date":"2020-02-08","sentiment":"Negative","count":19000},{"date":"2020-02-15","sentiment":"Negative","count":8000},{"date":"2020-02-22","sentiment":"Negative","count":44000},{"date":"2020-02-29","sentiment":"Negative","count":65000},{"date":"2020-03-07","sentiment":"Negative","count":104000},{"date":"2020-03-14","sentiment":"Negative","count":414000},{"date":"2020-03-21","sentiment":"Negative","count":450000},{"date":"2020-03-28","sentiment":"Negative","count":352000},{"date":"2020-04-04","sentiment":"Negative","count":320000},{"date":"2020-04-11","sentiment":"Negative","count":370000},{"date":"2020-04-18","sentiment":"Negative","count":297000},{"date":"2020-04-25","sentiment":"Negative","count":254000},{"date":"2020-05-02","sentiment":"Negative","count":216000},{"date":"2020-05-09","sentiment":"Negative","count":279000},{"date":"2020-05-16","sentiment":"Negative","count":329000},{"date":"2020-05-23","sentiment":"Negative","count":220000},{"date":"2020-05-30","sentiment":"Negative","count":198000},{"date":"2020-06-06","sentiment":"Negative","count":172000},{"date":"2020-06-13","sentiment":"Negative","count":128000},{"date":"2020-06-20","sentiment":"Negative","count":109000},{"date":"2020-06-27","sentiment":"Negative","count":81000},{"date":"2020-07-04","sentiment":"Negative","count":117000},{"date":"2020-07-11","sentiment":"Negative","count":95000},{"date":"2020-07-18","sentiment":"Negative","count":212000},{"date":"2020-07-25","sentiment":"Negative","count":161000},{"date":"2020-08-01","sentiment":"Negative","count":162000},{"date":"2020-08-08","sentiment":"Negative","count":121000},{"date":"2020-08-15","sentiment":"Negative","count":124000},{"date":"2020-08-22","sentiment":"Negative","count":105000},{"date":"2020-08-29","sentiment":"Negative","count":146000},{"date":"2020-09-05","sentiment":"Negative","count":207000},{"date":"2020-09-12","sentiment":"Negative","count":100000},{"date":"2020-09-19","sentiment":"Negative","count":47000},{"date":"2020-09-26","sentiment":"Negative","count":294000},{"date":"2020-10-03","sentiment":"Negative","count":284000},{"date":"2020-10-10","sentiment":"Negative","count":147000},{"date":"2020-10-17","sentiment":"Negative","count":143000},{"date":"2020-10-24","sentiment":"Negative","count":101000},{"date":"2020-10-31","sentiment":"Negative","count":81000},{"date":"2020-11-07","sentiment":"Negative","count":88000},{"date":"2020-11-14","sentiment":"Negative","count":112000},{"date":"2020-11-21","sentiment":"Negative","count":103000},{"date":"2020-11-28","sentiment":"Negative","count":131000},{"date":"2020-12-05","sentiment":"Negative","count":122000},{"date":"2020-12-12","sentiment":"Negative","count":82000},{"date":"2020-12-19","sentiment":"Negative","count":106000},{"date":"2020-12-26","sentiment":"Negative","count":133000},{"date":"2021-01-02","sentiment":"Negative","count":215000},{"date":"2021-01-09","sentiment":"Negative","count":279000},{"date":"2021-01-16","sentiment":"Negative","count":232000},{"date":"2021-01-23","sentiment":"Negative","count":203000},{"date":"2021-01-30","sentiment":"Negative","count":181000},{"date":"2021-02-06","sentiment":"Negative","count":122000},{"date":"2021-02-13","sentiment":"Negative","count":94000},{"date":"2021-02-20","sentiment":"Negative","count":125000},{"date":"2021-02-27","sentiment":"Negative","count":98000},{"date":"2021-03-06","sentiment":"Negative","count":62000},{"date":"2021-03-13","sentiment":"Negative","count":85000},{"date":"2021-03-20","sentiment":"Negative","count":53000},{"date":"2021-03-27","sentiment":"Negative","count":36000},
{"date":"2020-02-01","sentiment":"Neutral","count":19000},{"date":"2020-02-08","sentiment":"Neutral","count":30000},{"date":"2020-02-15","sentiment":"Neutral","count":10000},{"date":"2020-02-22","sentiment":"Neutral","count":17000},{"date":"2020-02-29","sentiment":"Neutral","count":49000},{"date":"2020-03-07","sentiment":"Neutral","count":104000},{"date":"2020-03-14","sentiment":"Neutral","count":344000},{"date":"2020-03-21","sentiment":"Neutral","count":408000},{"date":"2020-03-28","sentiment":"Neutral","count":388000},{"date":"2020-04-04","sentiment":"Neutral","count":339000},{"date":"2020-04-11","sentiment":"Neutral","count":403000},{"date":"2020-04-18","sentiment":"Neutral","count":388000},{"date":"2020-04-25","sentiment":"Neutral","count":301000},{"date":"2020-05-02","sentiment":"Neutral","count":282000},{"date":"2020-05-09","sentiment":"Neutral","count":316000},{"date":"2020-05-16","sentiment":"Neutral","count":309000},{"date":"2020-05-23","sentiment":"Neutral","count":297000},{"date":"2020-05-30","sentiment":"Neutral","count":175000},{"date":"2020-06-06","sentiment":"Neutral","count":245000},{"date":"2020-06-13","sentiment":"Neutral","count":177000},{"date":"2020-06-20","sentiment":"Neutral","count":151000},{"date":"2020-06-27","sentiment":"Neutral","count":87000},{"date":"2020-07-04","sentiment":"Neutral","count":141000},{"date":"2020-07-11","sentiment":"Neutral","count":132000},{"date":"2020-07-18","sentiment":"Neutral","count":190000},{"date":"2020-07-25","sentiment":"Neutral","count":203000},{"date":"2020-08-01","sentiment":"Neutral","count":164000},{"date":"2020-08-08","sentiment":"Neutral","count":149000},{"date":"2020-08-15","sentiment":"Neutral","count":138000},{"date":"2020-08-22","sentiment":"Neutral","count":130000},{"date":"2020-08-29","sentiment":"Neutral","count":158000},{"date":"2020-09-05","sentiment":"Neutral","count":196000},{"date":"2020-09-12","sentiment":"Neutral","count":104000},{"date":"2020-09-19","sentiment":"Neutral","count":44000},{"date":"2020-09-26","sentiment":"Neutral","count":271000},{"date":"2020-10-03","sentiment":"Neutral","count":247000},{"date":"2020-10-10","sentiment":"Neutral","count":181000},{"date":"2020-10-17","sentiment":"Neutral","count":203000},{"date":"2020-10-24","sentiment":"Neutral","count":151000},{"date":"2020-10-31","sentiment":"Neutral","count":130000},{"date":"2020-11-07","sentiment":"Neutral","count":113000},{"date":"2020-11-14","sentiment":"Neutral","count":126000},{"date":"2020-11-21","sentiment":"Neutral","count":128000},{"date":"2020-11-28","sentiment":"Neutral","count":138000},{"date":"2020-12-05","sentiment":"Neutral","count":126000},{"date":"2020-12-12","sentiment":"Neutral","count":124000},{"date":"2020-12-19","sentiment":"Neutral","count":145000},{"date":"2020-12-26","sentiment":"Neutral","count":145000},{"date":"2021-01-02","sentiment":"Neutral","count":220000},{"date":"2021-01-09","sentiment":"Neutral","count":307000},{"date":"2021-01-16","sentiment":"Neutral","count":224000},{"date":"2021-01-23","sentiment":"Neutral","count":195000},{"date":"2021-01-30","sentiment":"Neutral","count":163000},{"date":"2021-02-06","sentiment":"Neutral","count":162000},{"date":"2021-02-13","sentiment":"Neutral","count":143000},{"date":"2021-02-20","sentiment":"Neutral","count":145000},{"date":"2021-02-27","sentiment":"Neutral","count":135000},{"date":"2021-03-06","sentiment":"Neutral","count":104000},{"date":"2021-03-13","sentiment":"Neutral","count":104000},{"date":"2021-03-20","sentiment":"Neutral","count":87000},{"date":"2021-03-27","sentiment":"Neutral","count":72000}
],
"Arabic": [
{"date":"2020-02-01","sentiment":"Positive","count":6000},{"date":"2020-02-08","sentiment":"Positive","count":6000},{"date":"2020-02-15","sentiment":"Positive","count":6000},{"date":"2020-02-22","sentiment":"Positive","count":6000},{"date":"2020-02-29","sentiment":"Positive","count":6000},{"date":"2020-03-07","sentiment":"Positive","count":126000},{"date":"2020-03-14","sentiment":"Positive","count":247000},{"date":"2020-03-21","sentiment":"Positive","count":295000},{"date":"2020-03-28","sentiment":"Positive","count":297000},{"date":"2020-04-04","sentiment":"Positive","count":314000},{"date":"2020-04-11","sentiment":"Positive","count":292000},{"date":"2020-04-18","sentiment":"Positive","count":242000},{"date":"2020-04-25","sentiment":"Positive","count":242000},{"date":"2020-05-02","sentiment":"Positive","count":319000},{"date":"2020-05-09","sentiment":"Positive","count":280000},{"date":"2020-05-16","sentiment":"Positive","count":282000},{"date":"2020-05-23","sentiment":"Positive","count":257000},{"date":"2020-05-30","sentiment":"Positive","count":173000},{"date":"2020-06-06","sentiment":"Positive","count":225000},{"date":"2020-06-13","sentiment":"Positive","count":190000},{"date":"2020-06-20","sentiment":"Positive","count":135000},{"date":"2020-06-27","sentiment":"Positive","count":64000},{"date":"2020-07-04","sentiment":"Positive","count":88000},{"date":"2020-07-11","sentiment":"Positive","count":290000},{"date":"2020-07-18","sentiment":"Positive","count":433000},{"date":"2020-07-25","sentiment":"Positive","count":451000},{"date":"2020-08-01","sentiment":"Positive","count":395000},{"date":"2020-08-08","sentiment":"Positive","count":163000},{"date":"2020-08-15","sentiment":"Positive","count":76000},{"date":"2020-08-22","sentiment":"Positive","count":60000},{"date":"2020-08-29","sentiment":"Positive","count":59000},{"date":"2020-09-05","sentiment":"Positive","count":57000},{"date":"2020-09-12","sentiment":"Positive","count":35000},{"date":"2020-09-19","sentiment":"Positive","count":45000},{"date":"2020-09-26","sentiment":"Positive","count":351000},{"date":"2020-10-03","sentiment":"Positive","count":330000},{"date":"2020-10-10","sentiment":"Positive","count":315000},{"date":"2020-10-17","sentiment":"Positive","count":273000},{"date":"2020-10-24","sentiment":"Positive","count":304000},{"date":"2020-10-31","sentiment":"Positive","count":307000},{"date":"2020-11-07","sentiment":"Positive","count":312000},{"date":"2020-11-14","sentiment":"Positive","count":262000},{"date":"2020-11-21","sentiment":"Positive","count":320000},{"date":"2020-11-28","sentiment":"Positive","count":315000},{"date":"2020-12-05","sentiment":"Positive","count":310000},{"date":"2020-12-12","sentiment":"Positive","count":313000},{"date":"2020-12-19","sentiment":"Positive","count":391000},{"date":"2020-12-26","sentiment":"Positive","count":396000},{"date":"2021-01-02","sentiment":"Positive","count":462000},{"date":"2021-01-09","sentiment":"Positive","count":386000},{"date":"2021-01-16","sentiment":"Positive","count":522000},{"date":"2021-01-23","sentiment":"Positive","count":330000},{"date":"2021-01-30","sentiment":"Positive","count":360000},{"date":"2021-02-06","sentiment":"Positive","count":355000},{"date":"2021-02-13","sentiment":"Positive","count":427000},{"date":"2021-02-20","sentiment":"Positive","count":389000},{"date":"2021-02-27","sentiment":"Positive","count":379000},{"date":"2021-03-06","sentiment":"Positive","count":441000},{"date":"2021-03-13","sentiment":"Positive","count":413000},{"date":"2021-03-20","sentiment":"Positive","count":411000},{"date":"2021-03-27","sentiment":"Positive","count":282000},
{"date":"2020-02-01","sentiment":"Negative","count":7000},{"date":"2020-02-08","sentiment":"Negative","count":6000},{"date":"2020-02-15","sentiment":"Negative","count":6000},{"date":"2020-02-22","sentiment":"Negative","count":21000},{"date":"2020-02-29","sentiment":"Negative","count":22000},{"date":"2020-03-07","sentiment":"Negative","count":148000},{"date":"2020-03-14","sentiment":"Negative","count":230000},{"date":"2020-03-21","sentiment":"Negative","count":278000},{"date":"2020-03-28","sentiment":"Negative","count":268000},{"date":"2020-04-04","sentiment":"Negative","count":289000},{"date":"2020-04-11","sentiment":"Negative","count":250000},{"date":"2020-04-18","sentiment":"Negative","count":191000},{"date":"2020-04-25","sentiment":"Negative","count":207000},{"date":"2020-05-02","sentiment":"Negative","count":266000},{"date":"2020-05-09","sentiment":"Negative","count":268000},{"date":"2020-05-16","sentiment":"Negative","count":241000},{"date":"2020-05-23","sentiment":"Negative","count":255000},{"date":"2020-05-30","sentiment":"Negative","count":193000},{"date":"2020-06-06","sentiment":"Negative","count":235000},{"date":"2020-06-13","sentiment":"Negative","count":196000},{"date":"2020-06-20","sentiment":"Negative","count":138000},{"date":"2020-06-27","sentiment":"Negative","count":55000},{"date":"2020-07-04","sentiment":"Negative","count":96000},{"date":"2020-07-11","sentiment":"Negative","count":180000},{"date":"2020-07-18","sentiment":"Negative","count":216000},{"date":"2020-07-25","sentiment":"Negative","count":199000},{"date":"2020-08-01","sentiment":"Negative","count":235000},{"date":"2020-08-08","sentiment":"Negative","count":102000},{"date":"2020-08-15","sentiment":"Negative","count":67000},{"date":"2020-08-22","sentiment":"Negative","count":63000},{"date":"2020-08-29","sentiment":"Negative","count":58000},{"date":"2020-09-05","sentiment":"Negative","count":59000},{"date":"2020-09-12","sentiment":"Negative","count":50000},{"date":"2020-09-19","sentiment":"Negative","count":45000},{"date":"2020-09-26","sentiment":"Negative","count":194000},{"date":"2020-10-03","sentiment":"Negative","count":183000},{"date":"2020-10-10","sentiment":"Negative","count":179000},{"date":"2020-10-17","sentiment":"Negative","count":163000},{"date":"2020-10-24","sentiment":"Negative","count":176000},{"date":"2020-10-31","sentiment":"Negative","count":184000},{"date":"2020-11-07","sentiment":"Negative","count":158000},{"date":"2020-11-14","sentiment":"Negative","count":133000},{"date":"2020-11-21","sentiment":"Negative","count":153000},{"date":"2020-11-28","sentiment":"Negative","count":145000},{"date":"2020-12-05","sentiment":"Negative","count":151000},{"date":"2020-12-12","sentiment":"Negative","count":158000},{"date":"2020-12-19","sentiment":"Negative","count":207000},{"date":"2020-12-26","sentiment":"Negative","count":171000},{"date":"2021-01-02","sentiment":"Negative","count":186000},{"date":"2021-01-09","sentiment":"Negative","count":198000},{"date":"2021-01-16","sentiment":"Negative","count":247000},{"date":"2021-01-23","sentiment":"Negative","count":188000},{"date":"2021-01-30","sentiment":"Negative","count":259000},{"date":"2021-02-06","sentiment":"Negative","count":215000},{"date":"2021-02-13","sentiment":"Negative","count":226000},{"date":"2021-02-20","sentiment":"Negative","count":257000},{"date":"2021-02-27","sentiment":"Negative","count":227000},{"date":"2021-03-06","sentiment":"Negative","count":244000},{"date":"2021-03-13","sentiment":"Negative","count":240000},{"date":"2021-03-20","sentiment":"Negative","count":239000},{"date":"2021-03-27","sentiment":"Negative","count":155000},
{"date":"2020-02-01","sentiment":"Neutral","count":6000},{"date":"2020-02-08","sentiment":"Neutral","count":6000},{"date":"2020-02-15","sentiment":"Neutral","count":6000},{"date":"2020-02-22","sentiment":"Neutral","count":10000},{"date":"2020-02-29","sentiment":"Neutral","count":12000},{"date":"2020-03-07","sentiment":"Neutral","count":96000},{"date":"2020-03-14","sentiment":"Neutral","count":155000},{"date":"2020-03-21","sentiment":"Neutral","count":212000},{"date":"2020-03-28","sentiment":"Neutral","count":211000},{"date":"2020-04-04","sentiment":"Neutral","count":242000},{"date":"2020-04-11","sentiment":"Neutral","count":221000},{"date":"2020-04-18","sentiment":"Neutral","count":194000},{"date":"2020-04-25","sentiment":"Neutral","count":230000},{"date":"2020-05-02","sentiment":"Neutral","count":275000},{"date":"2020-05-09","sentiment":"Neutral","count":274000},{"date":"2020-05-16","sentiment":"Neutral","count":237000},{"date":"2020-05-23","sentiment":"Neutral","count":210000},{"date":"2020-05-30","sentiment":"Neutral","count":169000},{"date":"2020-06-06","sentiment":"Neutral","count":231000},{"date":"2020-06-13","sentiment":"Neutral","count":210000},{"date":"2020-06-20","sentiment":"Neutral","count":155000},{"date":"2020-06-27","sentiment":"Neutral","count":70000},{"date":"2020-07-04","sentiment":"Neutral","count":107000},{"date":"2020-07-11","sentiment":"Neutral","count":230000},{"date":"2020-07-18","sentiment":"Neutral","count":302000},{"date":"2020-07-25","sentiment":"Neutral","count":255000},{"date":"2020-08-01","sentiment":"Neutral","count":274000},{"date":"2020-08-08","sentiment":"Neutral","count":121000},{"date":"2020-08-15","sentiment":"Neutral","count":82000},{"date":"2020-08-22","sentiment":"Neutral","count":68000},{"date":"2020-08-29","sentiment":"Neutral","count":66000},{"date":"2020-09-05","sentiment":"Neutral","count":64000},{"date":"2020-09-12","sentiment":"Neutral","count":44000},{"date":"2020-09-19","sentiment":"Neutral","count":39000},{"date":"2020-09-26","sentiment":"Neutral","count":227000},{"date":"2020-10-03","sentiment":"Neutral","count":226000},{"date":"2020-10-10","sentiment":"Neutral","count":227000},{"date":"2020-10-17","sentiment":"Neutral","count":202000},{"date":"2020-10-24","sentiment":"Neutral","count":221000},{"date":"2020-10-31","sentiment":"Neutral","count":231000},{"date":"2020-11-07","sentiment":"Neutral","count":212000},{"date":"2020-11-14","sentiment":"Neutral","count":185000},{"date":"2020-11-21","sentiment":"Neutral","count":219000},{"date":"2020-11-28","sentiment":"Neutral","count":211000},{"date":"2020-12-05","sentiment":"Neutral","count":212000},{"date":"2020-12-12","sentiment":"Neutral","count":235000},{"date":"2020-12-19","sentiment":"Neutral","count":280000},{"date":"2020-12-26","sentiment":"Neutral","count":247000},{"date":"2021-01-02","sentiment":"Neutral","count":265000},{"date":"2021-01-09","sentiment":"Neutral","count":255000},{"date":"2021-01-16","sentiment":"Neutral","count":329000},{"date":"2021-01-23","sentiment":"Neutral","count":242000},{"date":"2021-01-30","sentiment":"Neutral","count":289000},{"date":"2021-02-06","sentiment":"Neutral","count":292000},{"date":"2021-02-13","sentiment":"Neutral","count":320000},{"date":"2021-02-20","sentiment":"Neutral","count":297000},{"date":"2021-02-27","sentiment":"Neutral","count":319000},{"date":"2021-03-06","sentiment":"Neutral","count":331000},{"date":"2021-03-13","sentiment":"Neutral","count":351000},{"date":"2021-03-20","sentiment":"Neutral","count":325000},{"date":"2021-03-27","sentiment":"Neutral","count":205000}
]
},
"vconcat": [
{
 "data": {"name": "Spanish"},
 "width": 2965, "height": 367,
 "mark": {"type": "line", "strokeWidth": 4.5, "strokeJoin": "round"},
 "encoding": {
  "x": {"field": "date", "type": "temporal", "scale": {"type": "utc", "domain": [1580173200000, 1617376900000]}, "axis": null},
  "y": {"field": "count", "type": "quantitative", "scale": {"domain": [0, 4350000], "nice": false},
        "axis": {"title": "Spanish", "titleX": -135, "titleAngle": 270, "titleAlign": "center", "titleBaseline": "middle", "titleFontSize": 36, "values": [1000000, 2000000, 3000000, 4000000], "labelFontSize": 31,
                 "labelExpr": "datum.value >= 1000000 ? format(datum.value / 1000000, '.1f') + 'M' : format(datum.value / 1000, '.1f') + 'K'"}},
  "color": {"field": "sentiment", "type": "nominal", "scale": {"domain": ["Positive", "Negative", "Neutral"], "range": ["#87ceeb", "#ff0000", "#808000"]},
            "legend": {"title": null, "orient": "none", "legendX": 1852, "legendY": 14, "direction": "horizontal", "columns": 3, "symbolType": "M-1,0H2.555", "symbolSize": 2025, "symbolStrokeWidth": 4.5, "labelFontSize": 37, "labelFont": "DejaVu Sans", "labelColor": "black", "labelOffset": 63, "labelLimit": 0, "columnPadding": 58, "padding": 12, "strokeColor": "#d0d0d0", "fillColor": "white", "cornerRadius": 10}},
  "strokeDash": {"field": "sentiment", "type": "nominal", "scale": {"domain": ["Positive", "Negative", "Neutral"], "range": [[1, 0], [1, 0], [18.5, 8]]},
            "legend": {"title": null, "orient": "none", "legendX": 1852, "legendY": 14, "direction": "horizontal", "columns": 3, "symbolType": "M-1,0H2.555", "symbolSize": 2025, "symbolStrokeWidth": 4.5, "labelFontSize": 37, "labelFont": "DejaVu Sans", "labelColor": "black", "labelOffset": 63, "labelLimit": 0, "columnPadding": 58, "padding": 12, "strokeColor": "#d0d0d0", "fillColor": "white", "cornerRadius": 10}}
 }
},
{
 "data": {"name": "Portuguese"},
 "width": 2965, "height": 367,
 "mark": {"type": "line", "strokeWidth": 4.5, "strokeJoin": "round"},
 "encoding": {
  "x": {"field": "date", "type": "temporal", "scale": {"type": "utc", "domain": [1580173200000, 1617376900000]}, "axis": null},
  "y": {"field": "count", "type": "quantitative", "scale": {"domain": [0, 1556000], "nice": false},
        "axis": {"title": "Portuguese", "titleX": -166, "titleAngle": 270, "titleAlign": "center", "titleBaseline": "middle", "titleFontSize": 36, "values": [500000, 1000000, 1500000], "labelFontSize": 31,
                 "labelExpr": "datum.value >= 1000000 ? format(datum.value / 1000000, '.1f') + 'M' : format(datum.value / 1000, '.1f') + 'K'"}},
  "color": {"field": "sentiment", "type": "nominal", "scale": {"domain": ["Positive", "Negative", "Neutral"], "range": ["#87ceeb", "#ff0000", "#808000"]}, "legend": null},
  "strokeDash": {"field": "sentiment", "type": "nominal", "scale": {"domain": ["Positive", "Negative", "Neutral"], "range": [[1, 0], [1, 0], [18.5, 8]]}, "legend": null}
 }
},
{
 "data": {"name": "French"},
 "width": 2965, "height": 367,
 "mark": {"type": "line", "strokeWidth": 4.5, "strokeJoin": "round"},
 "encoding": {
  "x": {"field": "date", "type": "temporal", "scale": {"type": "utc", "domain": [1580173200000, 1617376900000]}, "axis": null},
  "y": {"field": "count", "type": "quantitative", "scale": {"domain": [0, 1563000], "nice": false},
        "axis": {"title": "French", "titleX": -168, "titleAngle": 270, "titleAlign": "center", "titleBaseline": "middle", "titleFontSize": 36, "values": [500000, 1000000, 1500000], "labelFontSize": 31,
                 "labelExpr": "datum.value >= 1000000 ? format(datum.value / 1000000, '.1f') + 'M' : format(datum.value / 1000, '.1f') + 'K'"}},
  "color": {"field": "sentiment", "type": "nominal", "scale": {"domain": ["Positive", "Negative", "Neutral"], "range": ["#87ceeb", "#ff0000", "#808000"]}, "legend": null},
  "strokeDash": {"field": "sentiment", "type": "nominal", "scale": {"domain": ["Positive", "Negative", "Neutral"], "range": [[1, 0], [1, 0], [18.5, 8]]}, "legend": null}
 }
},
{
 "data": {"name": "Indonesian"},
 "width": 2965, "height": 367,
 "mark": {"type": "line", "strokeWidth": 4.5, "strokeJoin": "round"},
 "encoding": {
  "x": {"field": "date", "type": "temporal", "scale": {"type": "utc", "domain": [1580173200000, 1617376900000]}, "axis": null},
  "y": {"field": "count", "type": "quantitative", "scale": {"domain": [0, 471800], "nice": false},
        "axis": {"title": "Indonesian", "titleX": -167, "titleAngle": 270, "titleAlign": "center", "titleBaseline": "middle", "titleFontSize": 36, "values": [100000, 200000, 300000, 400000], "labelFontSize": 31,
                 "labelExpr": "datum.value >= 1000000 ? format(datum.value / 1000000, '.1f') + 'M' : format(datum.value / 1000, '.1f') + 'K'"}},
  "color": {"field": "sentiment", "type": "nominal", "scale": {"domain": ["Positive", "Negative", "Neutral"], "range": ["#87ceeb", "#ff0000", "#808000"]}, "legend": null},
  "strokeDash": {"field": "sentiment", "type": "nominal", "scale": {"domain": ["Positive", "Negative", "Neutral"], "range": [[1, 0], [1, 0], [18.5, 8]]}, "legend": null}
 }
},
{
 "data": {"name": "Arabic"},
 "width": 2965, "height": 367,
 "mark": {"type": "line", "strokeWidth": 4.5, "strokeJoin": "round"},
 "encoding": {
  "x": {"field": "date", "type": "temporal", "scale": {"type": "utc", "domain": [1580173200000, 1617376900000]},
        "axis": {"title": null, "values": [1580515200000, 1581724800000, 1582934400000, 1584144000000, 1585353600000, 1586563200000, 1587772800000, 1588982400000, 1590192000000, 1591401600000, 1592611200000, 1593820800000, 1595030400000, 1596240000000, 1597449600000, 1598659200000, 1599868800000, 1601078400000, 1602288000000, 1603497600000, 1604707200000, 1605916800000, 1607126400000, 1608336000000, 1609545600000, 1610755200000, 1611964800000, 1613174400000, 1614384000000, 1615593600000, 1616803200000],
                 "format": "%b %d", "labelAngle": -30, "labelAlign": "right", "labelBaseline": "top", "labelFontSize": 38, "labelPadding": 10, "labelOffset": -7, "labelOverlap": false, "labelFlush": false, "labelBound": false}},
  "y": {"field": "count", "type": "quantitative", "scale": {"domain": [0, 545400], "nice": false},
        "axis": {"title": "Arabic", "titleX": -190, "titleAngle": 270, "titleAlign": "center", "titleBaseline": "middle", "titleFontSize": 36, "values": [200000, 400000], "labelFontSize": 37.5,
                 "labelExpr": "datum.value >= 1000000 ? format(datum.value / 1000000, '.1f') + 'M' : format(datum.value / 1000, '.1f') + 'K'"}},
  "color": {"field": "sentiment", "type": "nominal", "scale": {"domain": ["Positive", "Negative", "Neutral"], "range": ["#87ceeb", "#ff0000", "#808000"]}, "legend": null},
  "strokeDash": {"field": "sentiment", "type": "nominal", "scale": {"domain": ["Positive", "Negative", "Neutral"], "range": [[1, 0], [1, 0], [18.5, 8]]}, "legend": null}
 }
}
],
"resolve": {"legend": {"color": "independent", "strokeDash": "independent"}}
}
